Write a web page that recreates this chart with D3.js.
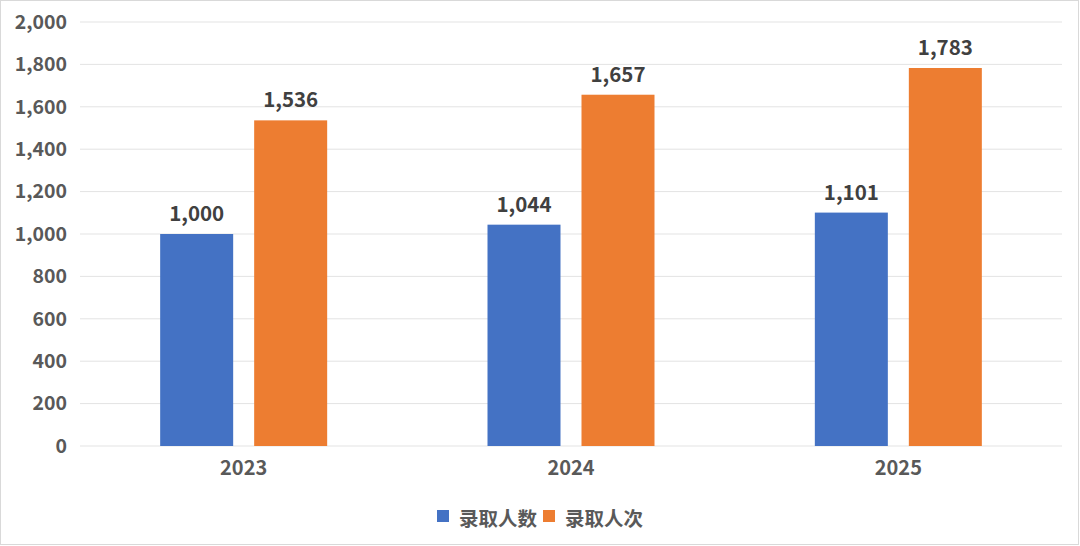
<!DOCTYPE html>
<html><head><meta charset="utf-8">
<script src="https://cdn.jsdelivr.net/npm/d3@7"></script>
<style>body{margin:0;background:#fff}svg{display:block;font-family:"Noto Sans CJK SC","Noto Sans",sans-serif}</style>
</head><body><svg id="c" width="1080" height="546"></svg>
<script>
const categories = ["2023", "2024", "2025"];
const seriesNames = ["录取人数", "录取人次"];
const admitted = [1000, 1044, 1101];
const admissions = [1536, 1657, 1783];
const yTicks = [0, 200, 400, 600, 800, 1000, 1200, 1400, 1600, 1800, 2000];
const colors = ["#4472C4", "#ED7D31"];

const svg = d3.select("#c");
svg.append("rect").attr("x",0.5).attr("y",0.5).attr("width",1078).attr("height",544)
  .attr("fill","#fff").attr("stroke","#d9d9d9");
const m = {l:80, r:1062, t:22, b:446};
const x = d3.scaleBand().domain(categories).range([m.l, m.r]);
const y = d3.scaleLinear().domain([0, 2000]).range([m.b, m.t]);
const fmt = d3.format(",");

svg.append("g").selectAll("line").data(yTicks).join("line")
  .attr("x1", m.l).attr("x2", m.r).attr("y1", d=>y(d)).attr("y2", d=>y(d))
  .attr("stroke", "#e3e3e3").attr("stroke-width", 1);

const yAxis = svg.append("g").attr("transform", `translate(${m.l},0)`)
  .call(d3.axisLeft(y).tickValues(yTicks).tickFormat(fmt).tickSize(0).tickPadding(13));
yAxis.select(".domain").remove();
yAxis.selectAll("text").attr("font-size", 19.5).attr("font-weight", "bold").attr("fill", "#595959")
  .attr("font-family", '"Noto Sans CJK SC",sans-serif');

const xAxis = svg.append("g").attr("transform", `translate(0,${m.b})`)
  .call(d3.axisBottom(x).tickSize(0).tickPadding(15));
xAxis.select(".domain").remove();
xAxis.selectAll("text").attr("font-size", 20).attr("font-weight", "bold").attr("fill", "#595959")
  .attr("font-family", '"Noto Sans CJK SC",sans-serif');

const bw = 73, gap = 21;
const series = [admitted, admissions];
series.forEach((vals, si) => {
  const off = si === 0 ? -(gap/2 + bw) : gap/2;
  const g = svg.append("g");
  g.selectAll("rect").data(vals).join("rect")
    .attr("x", (d,i) => x(categories[i]) + x.bandwidth()/2 + off)
    .attr("width", bw)
    .attr("y", d => y(d)).attr("height", d => y(0) - y(d))
    .attr("fill", colors[si]);
  g.selectAll("text").data(vals).join("text")
    .attr("x", (d,i) => x(categories[i]) + x.bandwidth()/2 + off + bw/2)
    .attr("y", d => y(d) - 13)
    .attr("text-anchor", "middle").attr("font-size", 20.5).attr("font-weight", "bold")
    .attr("fill", "#404040").text(d => fmt(d));
});

// legend
const lg = svg.append("g").attr("transform", "translate(437,516)");
const items = [{x:0}, {x:106}];
seriesNames.forEach((n, i) => {
  lg.append("rect").attr("x", items[i].x).attr("y", -6).attr("width", 12).attr("height", 12).attr("fill", colors[i]);
  lg.append("text").attr("x", items[i].x + 22).attr("y", 1).attr("dominant-baseline","central")
    .attr("font-size", 19.5).attr("font-weight", "bold").attr("fill", "#595959").text(n);
});
</script></body></html>
